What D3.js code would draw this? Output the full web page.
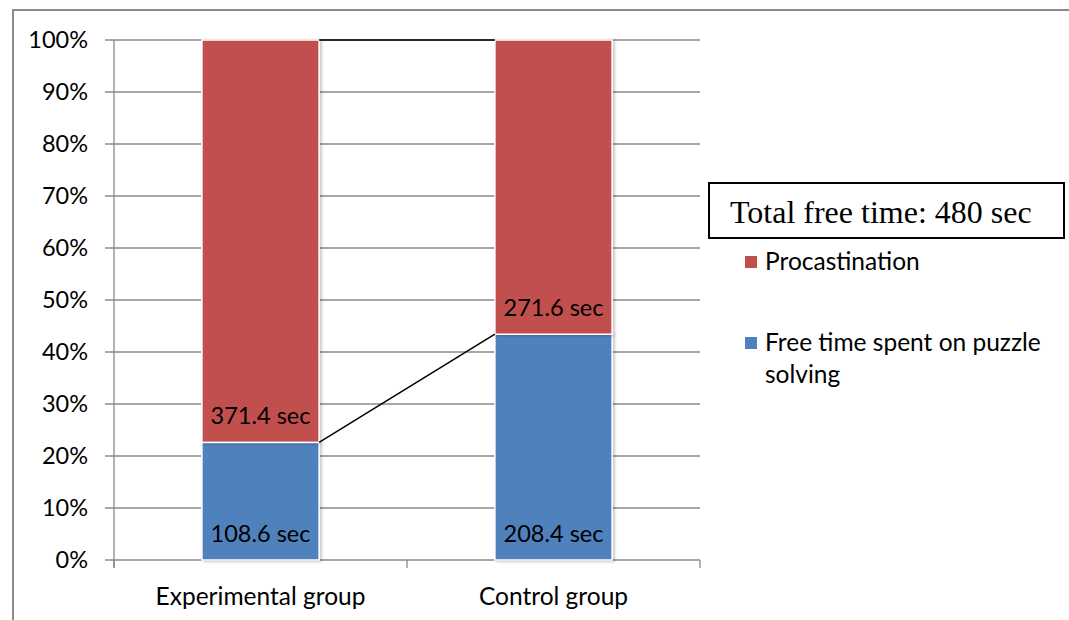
<!DOCTYPE html>
<html>
<head>
<meta charset="utf-8">
<script src="https://cdn.jsdelivr.net/npm/d3@7"></script>
<style>
  html, body { margin: 0; padding: 0; background: #fff; }
  svg { display: block; }
</style>
</head>
<body>
<svg id="chart" width="1069" height="620"></svg>
<script>
// Data: seconds of free time, out of a 480 s total
const categories = ["Experimental group", "Control group"];
const seriesNames = ["Free time spent on puzzle solving", "Procastination"];
const puzzleSec = [108.6, 208.4];
const procrastSec = [371.4, 271.6];
const totalSec = 480;
const yTicks = [0, 10, 20, 30, 40, 50, 60, 70, 80, 90, 100];
const colors = ["#4F81BD", "#C0504D"];

const svg = d3.select("#chart");
const font = "Lato, 'Open Sans', sans-serif";
const numSize = 23.5;   // numeric labels
const txtSize = 24.5;   // word labels

// outer chart frame
svg.append("rect")
  .attr("x", 13).attr("y", 10)
  .attr("width", 1080).attr("height", 640)
  .attr("fill", "none").attr("stroke", "#8c8c8c").attr("stroke-width", 2);

const plot = { left: 114, right: 700, top: 40, bottom: 560 };

const x = d3.scaleBand().domain(categories)
  .range([plot.left, plot.right]).paddingInner(0.6).paddingOuter(0.3);
const y = d3.scaleLinear().domain([0, 100]).range([plot.bottom, plot.top]);

// stacked percentage data
const rows = categories.map((c, i) => ({ cat: c, puzzle: puzzleSec[i], procrast: procrastSec[i] }));
const stack = d3.stack().keys(["puzzle", "procrast"])
  .value((d, k) => d[k] / totalSec * 100);
const stacked = stack(rows);

// gridlines
svg.append("g").selectAll("line").data(yTicks).join("line")
  .attr("x1", plot.left - 9).attr("x2", plot.right)
  .attr("y1", d => y(d)).attr("y2", d => y(d))
  .attr("stroke", "#8a8a8a").attr("stroke-width", 1.3);

// y axis line
svg.append("line")
  .attr("x1", plot.left).attr("x2", plot.left)
  .attr("y1", y(100)).attr("y2", y(0) + 8)
  .attr("stroke", "#8a8a8a").attr("stroke-width", 1.3);

// x axis ticks at band edges
const edges = [plot.left, (plot.left + plot.right) / 2, plot.right];
svg.append("g").selectAll("line").data(edges).join("line")
  .attr("x1", d => d).attr("x2", d => d)
  .attr("y1", y(0)).attr("y2", y(0) + 8)
  .attr("stroke", "#8a8a8a").attr("stroke-width", 1.3);

// y tick labels
svg.append("g").selectAll("text").data(yTicks).join("text")
  .attr("x", 88).attr("y", d => y(d))
  .attr("dy", "0.36em")
  .attr("text-anchor", "end")
  .attr("font-family", font).attr("font-size", numSize)
  .attr("fill", "#000")
  .text(d => d + "%");

// category labels
svg.append("g").selectAll("text").data(categories).join("text")
  .attr("x", d => x(d) + x.bandwidth() / 2).attr("y", 605)
  .attr("text-anchor", "middle")
  .attr("font-family", font).attr("font-size", txtSize)
  .attr("fill", "#000")
  .text(d => d);

// soft bar shadow
const defs = svg.append("defs");
const f = defs.append("filter").attr("id", "shadow")
  .attr("x", "-10%").attr("y", "-10%").attr("width", "130%").attr("height", "120%");
f.append("feDropShadow").attr("dx", 2).attr("dy", 1).attr("stdDeviation", 1.5)
  .attr("flood-color", "#000").attr("flood-opacity", 0.22);

// bars
const barG = svg.append("g");
stacked.forEach((s, si) => {
  barG.append("g").selectAll("rect").data(s).join("rect")
    .attr("x", d => x(d.data.cat))
    .attr("width", x.bandwidth())
    .attr("y", d => y(d[1]))
    .attr("height", d => y(d[0]) - y(d[1]))
    .attr("fill", colors[si])
    .attr("stroke", "#fff").attr("stroke-width", 1.5)
    .attr("filter", "url(#shadow)");
});

// series lines between bars
const lineG = svg.append("g");
stacked.forEach(s => {
  const a = s[0], b = s[1];
  lineG.append("line")
    .attr("x1", x(a.data.cat) + x.bandwidth()).attr("y1", y(a[1]))
    .attr("x2", x(b.data.cat)).attr("y2", y(b[1]))
    .attr("stroke", "#000").attr("stroke-width", 1.5);
});

// value labels, inside base of each segment
stacked.forEach(s => {
  svg.append("g").selectAll("text").data(s).join("text")
    .attr("x", d => x(d.data.cat) + x.bandwidth() / 2)
    .attr("y", d => y(d[0]) - 18)
    .attr("text-anchor", "middle")
    .attr("font-family", font).attr("font-size", numSize)
    .attr("fill", "#000")
    .text(d => d.data[s.key] + " sec");
});

// title box
svg.append("rect")
  .attr("x", 709).attr("y", 183).attr("width", 355).attr("height", 55)
  .attr("fill", "#fff").attr("stroke", "#000").attr("stroke-width", 2);
svg.append("text")
  .attr("x", 730).attr("y", 223)
  .attr("font-family", "'Liberation Serif', 'Times New Roman', serif")
  .attr("font-size", 32).attr("fill", "#000")
  .text("Total free time: " + totalSec + " sec");

// legend
const legendItems = [
  { name: seriesNames[1], color: colors[1], y: 262, lines: ["Procastination"] },
  { name: seriesNames[0], color: colors[0], y: 343, lines: ["Free time spent on puzzle", "solving"] }
];
const lg = svg.append("g");
legendItems.forEach(it => {
  lg.append("rect")
    .attr("x", 745).attr("y", it.y - 6).attr("width", 12).attr("height", 12)
    .attr("fill", it.color);
  const t = lg.append("text")
    .attr("x", 765).attr("y", it.y + 8)
    .attr("font-family", font).attr("font-size", txtSize).attr("fill", "#000");
  it.lines.forEach((ln, i) => {
    t.append("tspan").attr("x", 765).attr("dy", i === 0 ? 0 : 32).text(ln);
  });
});
</script>
</body>
</html>
